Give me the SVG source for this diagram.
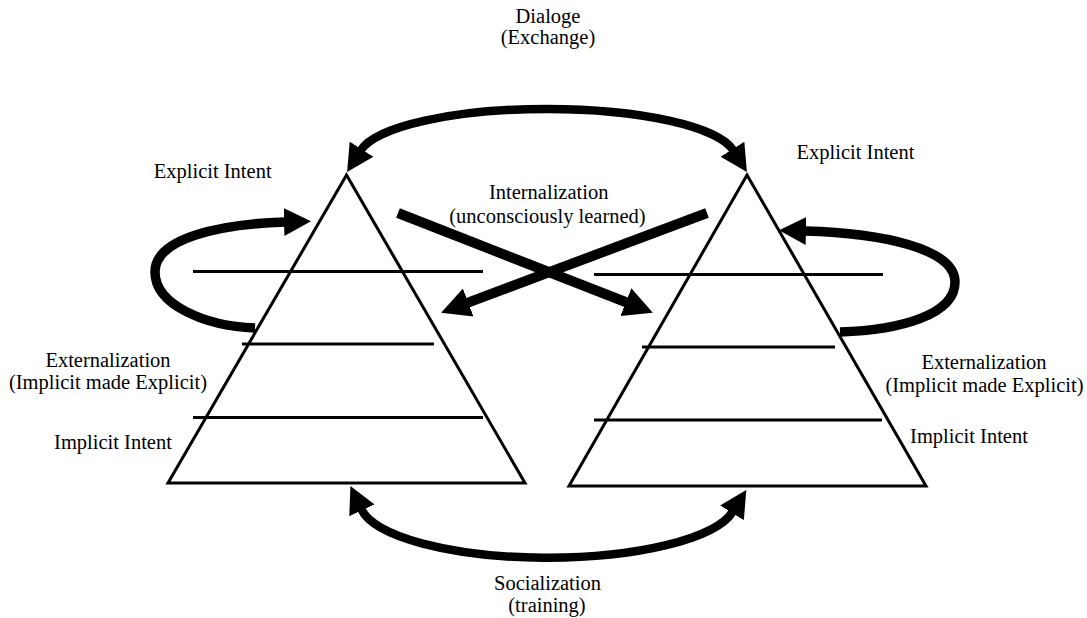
<svg xmlns="http://www.w3.org/2000/svg" width="1087" height="618" viewBox="0 0 1087 618">
<style>
text{font-family:"Liberation Serif","Times New Roman",serif;font-size:20.5px;fill:#000;text-anchor:middle}
.tri{fill:none;stroke:#000;stroke-width:3;stroke-linejoin:miter}
.lvl{stroke:#000;stroke-width:3}
.arc{fill:none;stroke:#000;stroke-width:8.5;marker-start:url(#ah);marker-end:url(#ah)}
.loop{fill:none;stroke:#000;stroke-width:9.5;marker-start:url(#ah)}
.x{fill:none;stroke:#000;stroke-width:10;marker-end:url(#ahx)}
</style>
<defs>
<marker id="ah" markerUnits="userSpaceOnUse" markerWidth="30" markerHeight="30" refX="1" refY="14" orient="auto-start-reverse" viewBox="0 0 30 28">
<path d="M0,0 L27,14 L0,28 Z" fill="#000"/>
</marker>
<marker id="ahx" markerUnits="userSpaceOnUse" markerWidth="32" markerHeight="32" refX="1" refY="15" orient="auto" viewBox="0 0 32 30">
<path d="M0,0 L29,15 L0,30 Z" fill="#000"/>
</marker>
</defs>
<g id="connectors">
<path id="dialoge" class="arc" d="M361,150 A188.5,49 0 0 1 733,150"/>
<path id="socialization" class="arc" d="M361.5,509.5 A188,56 0 0 0 732.5,512"/>
<path id="loop-left" class="loop" d="M285,222 C220,224 155,238 155,272 C155,305 205,326 255,328"/>
<path id="loop-right" class="loop" d="M805,231 C880,233 955,248 955,282 C955,315 900,330 840,332"/>
<path id="intern-a" class="x" d="M398,213 L626.8,302.5"/>
<path id="intern-b" class="x" d="M707,213 L467.3,302.9"/>
</g>
<g id="pyramid-left">
<polygon class="tri" points="346.5,175 168,483 525,483"/>
<line class="lvl" x1="193" y1="271.5" x2="483" y2="271.5"/>
<line class="lvl" x1="242" y1="344" x2="434" y2="344"/>
<line class="lvl" x1="193" y1="417.5" x2="483" y2="417.5"/>
</g>
<g id="pyramid-right">
<polygon class="tri" points="747,175 569,486 926,486"/>
<line class="lvl" x1="594" y1="274.5" x2="883" y2="274.5"/>
<line class="lvl" x1="642" y1="347" x2="835" y2="347"/>
<line class="lvl" x1="594" y1="420" x2="882" y2="420"/>
</g>
<g id="labels">
<text x="548" y="22.5">Dialoge</text>
<text x="548" y="44">(Exchange)</text>
<text x="212.7" y="177.5">Explicit Intent</text>
<text x="855.5" y="159.3">Explicit Intent</text>
<text x="548.7" y="199.3">Internalization</text>
<text x="547.5" y="223">(unconsciously learned)</text>
<text x="108" y="366.7">Externalization</text>
<text x="108" y="389.3">(Implicit made Explicit)</text>
<text x="113" y="449">Implicit Intent</text>
<text x="984" y="369.3">Externalization</text>
<text x="984.5" y="391.7">(Implicit made Explicit)</text>
<text x="969" y="443.3">Implicit Intent</text>
<text x="547.5" y="589.5">Socialization</text>
<text x="547" y="611.5">(training)</text>
</g>
</svg>
